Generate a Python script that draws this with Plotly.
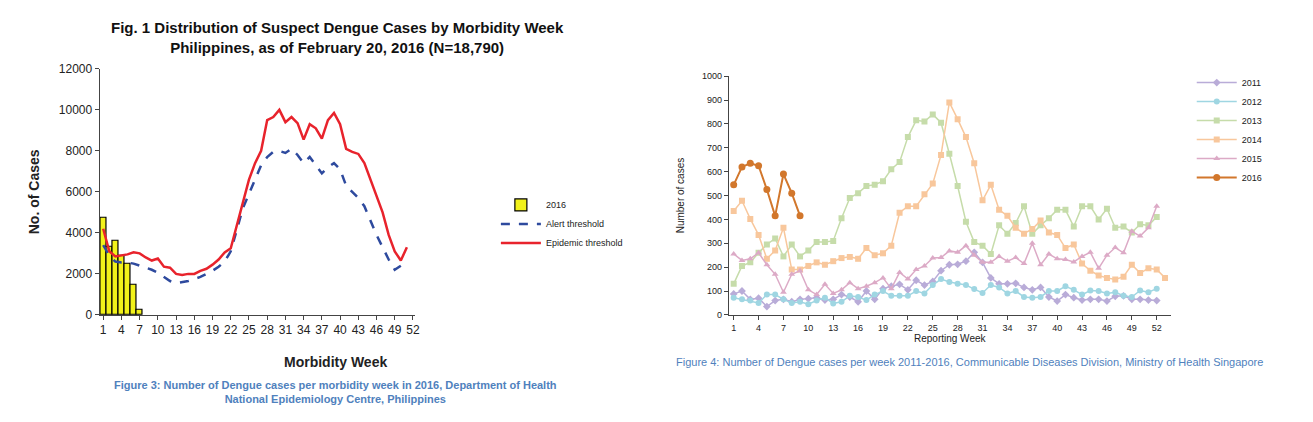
import plotly.graph_objects as go

# === Left chart: Philippines ===
ph_bar_weeks = [1, 2, 3, 4, 5, 6, 7]
ph_cases_2016 = [4750, 3300, 3600, 2900, 2500, 1450, 250]

ph_epidemic = [4200, 3100, 2850, 2900, 2950, 3050, 3000, 2800, 2650, 2750, 2350, 2300, 2000,
               1950, 2000, 2000, 2150, 2250, 2450, 2700, 3050, 3250, 4400, 5500, 6600, 7400,
               8000, 9500, 9650, 10000, 9400, 9650, 9350, 8550, 9300, 9100, 8600, 9500, 9850,
               9300, 8100, 7950, 7850, 7400, 6600, 5700, 5000, 3900, 3100, 2650, 3300]
ph_alert = [3400, 2900, 2600, 2550, 2550, 2500, 2400, 2300, 2200, 2050, 1850, 1650, 1550,
            1600, 1650, 1750, 1850, 2000, 2150, 2350, 2600, 3100, 4200, 5200, 5900, 6600,
            7300, 7700, 7950, 8000, 7900, 8100, 7800, 7400, 7700, 7300, 6900, 7200, 7400,
            7100, 6300, 6000, 5700, 5300, 4600, 3900, 3300, 2700, 2200, 2400]
ph_ticks = [1, 4, 7, 10, 13, 16, 19, 22, 25, 28, 31, 34, 37, 40, 43, 46, 49, 52]

# === Right chart: Singapore ===
sg = {
    "2011": [88, 100, 65, 70, 35, 60, 65, 55, 65, 68, 72, 62, 65, 85, 75, 55, 100, 65, 110, 120,
             128, 105, 145, 125, 140, 185, 210, 212, 225, 262, 220, 155, 130, 130, 132, 115, 105,
             115, 75, 58, 85, 72, 62, 65, 65, 58, 78, 80, 65, 65, 62, 60],
    "2012": [72, 65, 60, 50, 85, 85, 65, 50, 55, 45, 60, 72, 48, 55, 80, 75, 62, 85, 100, 80,
             80, 80, 100, 90, 125, 150, 138, 130, 125, 108, 92, 125, 115, 90, 100, 75, 72, 75,
             100, 100, 120, 105, 85, 102, 100, 90, 95, 80, 75, 102, 95, 110],
    "2013": [130, 205, 220, 260, 295, 320, 245, 295, 245, 270, 305, 305, 310, 405, 490, 510,
             540, 545, 560, 610, 640, 745, 815, 810, 840, 805, 675, 540, 390, 305, 290, 255, 375,
             340, 385, 455, 340, 375, 405, 440, 440, 370, 455, 455, 400, 445, 365, 370, 345, 380,
             375, 410],
    "2014": [435, 478, 402, 335, 235, 270, 365, 190, 190, 205, 220, 210, 225, 238, 243, 235,
             280, 250, 258, 290, 428, 455, 455, 505, 550, 670, 890, 820, 745, 635, 480, 545, 440,
             415, 365, 340, 360, 395, 345, 335, 280, 295, 215, 185, 165, 155, 148, 160, 210, 175,
             195, 190, 155],
    "2015": [255, 228, 235, 260, 210, 170, 95, 170, 185, 105, 85, 128, 90, 105, 135, 110, 120,
             135, 155, 110, 178, 150, 190, 205, 238, 240, 268, 262, 290, 250, 220, 220, 245, 225,
             240, 215, 300, 210, 255, 235, 232, 222, 245, 262, 195, 250, 282, 260, 350, 330, 365,
             455],
    "2016": [545, 620, 635, 625, 525, 415, 590, 510, 415],
}
sg_colors = {"2011": "#b9acd8", "2012": "#9fd6e2", "2013": "#c6dcaa",
             "2014": "#f8c79c", "2015": "#dcaac6", "2016": "#d2772c"}
sg_symbols = {"2011": "diamond", "2012": "circle", "2013": "square",
              "2014": "square", "2015": "triangle-up", "2016": "circle"}
sg_ticks = [1, 4, 7, 10, 13, 16, 19, 22, 25, 28, 31, 34, 37, 40, 43, 46, 49, 52]

fig = go.Figure()

fig.add_trace(go.Bar(x=ph_bar_weeks, y=ph_cases_2016, name="2016", width=1,
                     marker=dict(color="#f2f21a", line=dict(color="black", width=1.2)),
                     xaxis="x", yaxis="y", legend="legend"))
fig.add_trace(go.Scatter(x=list(range(1, len(ph_alert) + 1)), y=ph_alert, mode="lines",
                         name="Alert threshold", line=dict(color="#2e4a9e", width=2.5, dash="dash"),
                         xaxis="x", yaxis="y", legend="legend"))
fig.add_trace(go.Scatter(x=list(range(1, len(ph_epidemic) + 1)), y=ph_epidemic, mode="lines",
                         name="Epidemic threshold", line=dict(color="#e8232c", width=2.5),
                         xaxis="x", yaxis="y", legend="legend"))

for yr, vals in sg.items():
    fig.add_trace(go.Scatter(x=list(range(1, len(vals) + 1)), y=vals, mode="lines+markers",
                             name=yr, line=dict(color=sg_colors[yr], width=2 if yr == "2016" else 1.5),
                             marker=dict(symbol=sg_symbols[yr], size=7 if yr == "2016" else 6,
                                         color=sg_colors[yr]),
                             xaxis="x2", yaxis="y2", legend="legend2"))

axis_common = dict(showgrid=False, zeroline=False, showline=True, linecolor="#444",
                   ticks="outside", ticklen=4, tickcolor="#444")

fig.update_layout(
    width=1313, height=422,
    paper_bgcolor="white", plot_bgcolor="white",
    margin=dict(l=0, r=0, t=0, b=0),
    font=dict(family="Arial, Liberation Sans", color="#222"),
    bargap=0,
    xaxis=dict(domain=[0.07, 0.311], range=[0.4, 52.3], tickvals=ph_ticks,
               tickfont=dict(size=12), anchor="y", **axis_common),
    yaxis=dict(domain=[0.265, 0.868], range=[0, 12000], dtick=2000, tickformat="d",
               tickfont=dict(size=12),
               title=dict(text="<b>No. of Cases</b>", font=dict(size=14)), anchor="x",
               **axis_common),
    xaxis2=dict(domain=[0.551, 0.889], range=[0.4, 53.7], tickvals=sg_ticks,
                tickfont=dict(size=9), anchor="y2",
                title=dict(text="Reporting Week", font=dict(size=10), standoff=2), **axis_common),
    yaxis2=dict(domain=[0.265, 0.85], range=[0, 1000], dtick=100, tickfont=dict(size=9),
                title=dict(text="Number of cases", font=dict(size=10)), anchor="x2",
                **axis_common),
    legend=dict(x=0.373, y=0.57, xanchor="left", yanchor="top", font=dict(size=9),
                bgcolor="rgba(0,0,0,0)", tracegroupgap=0, itemwidth=40),
    legend2=dict(x=0.905, y=0.87, xanchor="left", yanchor="top", font=dict(size=9),
                 bgcolor="rgba(0,0,0,0)", itemwidth=40, tracegroupgap=0),
    annotations=[
        dict(text="<b>Fig. 1 Distribution of Suspect Dengue Cases by Morbidity Week<br>"
                  "Philippines, as of February 20, 2016 (N=18,790)</b>",
             x=0.252, y=0.995, xref="paper", yref="paper", xanchor="center", yanchor="top",
             showarrow=False, font=dict(size=15, color="#111")),
        dict(text="<b>Morbidity Week</b>", x=0.25, y=0.15, xref="paper", yref="paper",
             xanchor="center", yanchor="middle", showarrow=False, font=dict(size=14)),
        dict(text="<b>Figure 3: Number of Dengue cases per morbidity week in 2016, Department of Health<br>"
                  "National Epidemiology Centre, Philippines</b>",
             x=0.25, y=0.075, xref="paper", yref="paper", xanchor="center", yanchor="middle",
             showarrow=False, font=dict(size=11, color="#4f81bd")),
        dict(text="Figure 4: Number of Dengue cases per week 2011-2016, Communicable Diseases Division, "
                  "Ministry of Health Singapore",
             x=0.735, y=0.15, xref="paper", yref="paper", xanchor="center", yanchor="middle",
             showarrow=False, font=dict(size=11, color="#4f81bd")),
    ],
)

fig.write_html("out.html")
